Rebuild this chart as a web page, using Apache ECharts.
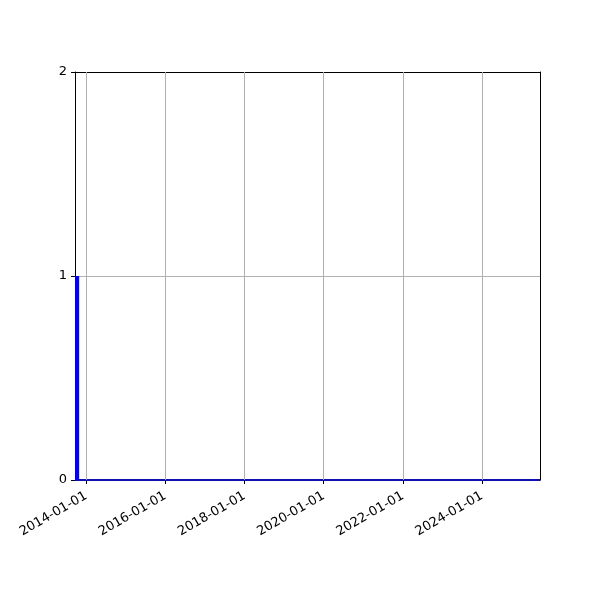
<!DOCTYPE html>
<html><head><meta charset="utf-8">
<script src="https://cdn.jsdelivr.net/npm/echarts@6/dist/echarts.min.js"></script>
<style>html,body{margin:0;padding:0;background:#fff}#c{width:600px;height:600px}</style>
</head><body><div id="c"></div>
<script>
const barDates = ['2013-10-10'];
const barValues = [1];
const zeroDates = ['2013-09-20', '2025-06-19'];
const zeroValues = [0, 0];
const xTickLabels = ['2014-01-01', '2016-01-01', '2018-01-01', '2020-01-01', '2022-01-01', '2024-01-01'];
const yTicks = [0, 1, 2];
const xMin = '2013-09-20';
const xMax = '2025-06-19';

const ms = s => echarts.time.parse(s).getTime();
const tickMs = xTickLabels.map(ms);
const chart = echarts.init(document.getElementById('c'));
const font = 'DejaVu Sans';
const spine = {show: true, onZero: false, lineStyle: {color: '#000', width: 1}};
chart.setOption({
  animation: false,
  grid: {left: 75, right: 60, top: 72, bottom: 120},
  xAxis: [{
    type: 'value', min: ms(xMin), max: ms(xMax),
    axisLine: spine,
    axisTick: {show: true, customValues: tickMs, length: 4, lineStyle: {color: '#000'}},
    axisLabel: {customValues: tickMs, rotate: 30, color: '#000', fontFamily: font, fontSize: 13, margin: 15,
      formatter: v => xTickLabels[tickMs.indexOf(v)] || ''},
    splitLine: {show: false}
  }, {
    type: 'value', position: 'top', min: 0, max: 1,
    axisLine: spine, axisTick: {show: false}, axisLabel: {show: false}, splitLine: {show: false}
  }],
  yAxis: [{
    type: 'value', min: yTicks[0], max: yTicks[yTicks.length - 1], interval: 1,
    axisLine: spine,
    axisTick: {show: true, length: 4, lineStyle: {color: '#000'}},
    axisLabel: {color: '#000', fontFamily: font, fontSize: 13, margin: 8},
    splitLine: {show: true, lineStyle: {color: '#b0b0b0', width: 1}}
  }, {
    type: 'value', position: 'right', min: 0, max: 1,
    axisLine: spine, axisTick: {show: false}, axisLabel: {show: false}, splitLine: {show: false}
  }],
  series: [
    {type: 'line', data: zeroDates.map((d, i) => [ms(d), zeroValues[i]]), symbol: 'none',
      lineStyle: {color: '#1010b0', width: 2}, z: 3,
      markLine: {silent: true, symbol: 'none', label: {show: false},
        lineStyle: {color: '#b0b0b0', width: 1, type: 'solid'},
        data: tickMs.map(t => ({xAxis: t}))}},
    {type: 'bar', data: barDates.map((d, i) => [ms(d), barValues[i]]), barWidth: 4,
      itemStyle: {color: '#0000ff'}, z: 4}
  ]
});
</script></body></html>
